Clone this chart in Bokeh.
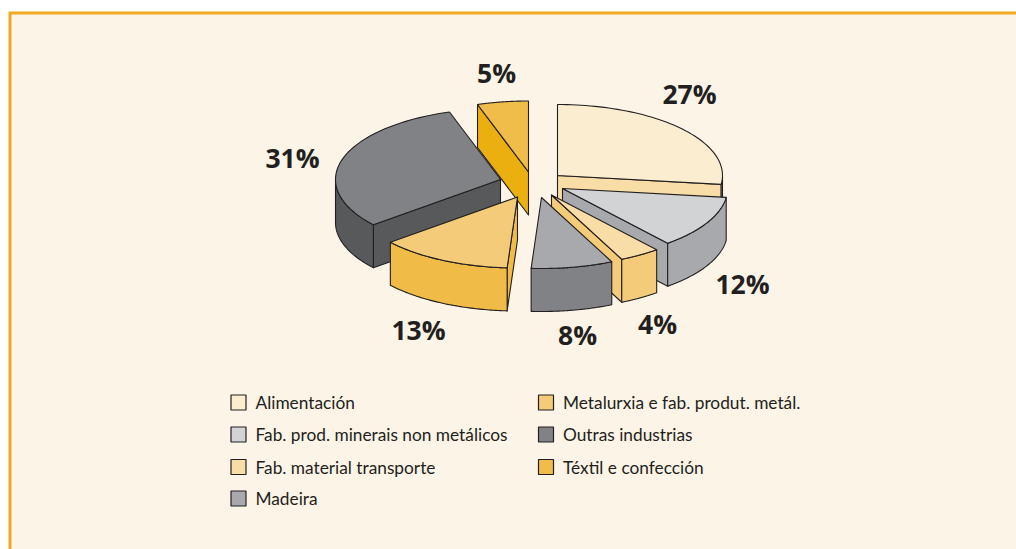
import numpy as np
from bokeh.plotting import figure
from bokeh.models import Range1d
from bokeh.core.properties import value
from bokeh.embed import file_html
from bokeh.resources import INLINE

# data, in pie order, clockwise from 12 o'clock
pie_names = ["Alimentación", "Fab. prod. minerais non metálicos", "Fab. material transporte",
             "Madeira", "Metalurxia e fab. produt. metál.", "Outras industrias", "Téxtil e confección"]
pie_values = [27, 12, 4, 8, 13, 31, 5]
pie_labels = ["27%", "12%", "4%", "8%", "13%", "31%", "5%"]

# styles
top_colors = ["#FBEDCF", "#D1D3D4", "#F9DDA6", "#A7A9AC", "#F4CB78", "#808285", "#F0BD4A"]
side_colors = ["#F9DDA6", "#A7A9AC", "#F4CB78", "#808285", "#F0BB46", "#58595B", "#EBAF10"]
legend_colors = {"Alimentación": "#FBEDCF", "Fab. prod. minerais non metálicos": "#D1D3D4",
                 "Fab. material transporte": "#F9DDA6", "Madeira": "#A7A9AC",
                 "Metalurxia e fab. produt. metál.": "#F4CB78", "Outras industrias": "#808285",
                 "Téxtil e confección": "#F0BD4A"}
legend_order = [("Alimentación", 0, 0), ("Fab. prod. minerais non metálicos", 0, 1),
                ("Fab. material transporte", 0, 2), ("Madeira", 0, 3),
                ("Metalurxia e fab. produt. metál.", 1, 0), ("Outras industrias", 1, 1),
                ("Téxtil e confección", 1, 2)]
INK = "#231F20"
BG = "#FCF4E7"
ORANGE = "#EFAA22"

# layout (screen pixels)
CX, CY, RX, RY, DEPTH = 528, 190, 165, 71, 43
OFF_X = [29, 34, 23, 13, -11, -28, 0]
OFF_Y = [-15, -2, 4.5, 7, 6.5, -11, -18.5]
LABEL_X = [689, 742, 657, 577, 418, 292, 496]
LABEL_Y = [93.5, 283.5, 323.5, 334.5, 329.5, 157.5, 72.5]
DRAW_ORDER = [6, 5, 4, 0, 1, 2, 3]

p = figure(width=1016, height=549, output_backend="svg", toolbar_location=None,
           x_range=Range1d(0, 1016), y_range=Range1d(549, 0), min_border=0,
           outline_line_color=None, border_fill_color="white", background_fill_color="white")
p.axis.visible = False
p.grid.visible = False

p.quad(left=[8], right=[1016], top=[11], bottom=[549], fill_color=ORANGE, line_color=None)
p.quad(left=[11], right=[1016], top=[14], bottom=[549], fill_color=BG, line_color=None)


def pt(ax, ay, th):
    return ax + RX * np.sin(th), ay - RY * np.cos(th)


def face(xs, ys, color):
    p.patch(list(xs), list(ys), fill_color=color, line_color=INK, line_width=1.1, line_join="round")


edges = np.cumsum([0] + pie_values) / sum(pie_values) * 2 * np.pi
for i in DRAW_ORDER:
    a0, a1 = edges[i], edges[i + 1]
    ax, ay = CX + OFF_X[i], CY + OFF_Y[i]
    th = np.linspace(a0, a1, 60)
    ex, ey = pt(ax, ay, th)
    # radial walls
    for ang, visible in ((a0, np.sin(a0) < 0 and a0 > np.pi), (a1, np.sin(a1) > 0)):
        if visible:
            qx, qy = pt(ax, ay, ang)
            face([ax, qx, qx, ax], [ay, qy, qy + DEPTH, ay + DEPTH], side_colors[i])
    # outer wall
    lo, hi = max(a0, np.pi / 2), min(a1, 3 * np.pi / 2)
    if hi > lo:
        t2 = np.linspace(lo, hi, 60)
        ox, oy = pt(ax, ay, t2)
        face(np.r_[ox, ox[::-1]], np.r_[oy, oy[::-1] + DEPTH], side_colors[i])
    # top
    face(np.r_[ax, ex], np.r_[ay, ey], top_colors[i])

p.text(LABEL_X, LABEL_Y, text=pie_labels, text_align="center", text_baseline="middle",
       text_font=value("Open Sans"), text_font_style="bold", text_font_size="26.5px", text_color=INK)

# legend
COL_X, ROW_Y, SW = [230.5, 538], [402, 434, 466.5, 498], 15
for name, c, r in legend_order:
    x, y = COL_X[c], ROW_Y[r]
    p.rect([x + SW / 2], [y], width=SW, height=SW, fill_color=legend_colors[name],
           line_color=INK, line_width=1.2)
    p.text([x + 24.5], [y + 0.3], text=[name], text_baseline="middle", text_font=value("Lato"),
           text_font_size="17.3px", text_color=INK)

open("out.html", "w").write(file_html(p, INLINE))
